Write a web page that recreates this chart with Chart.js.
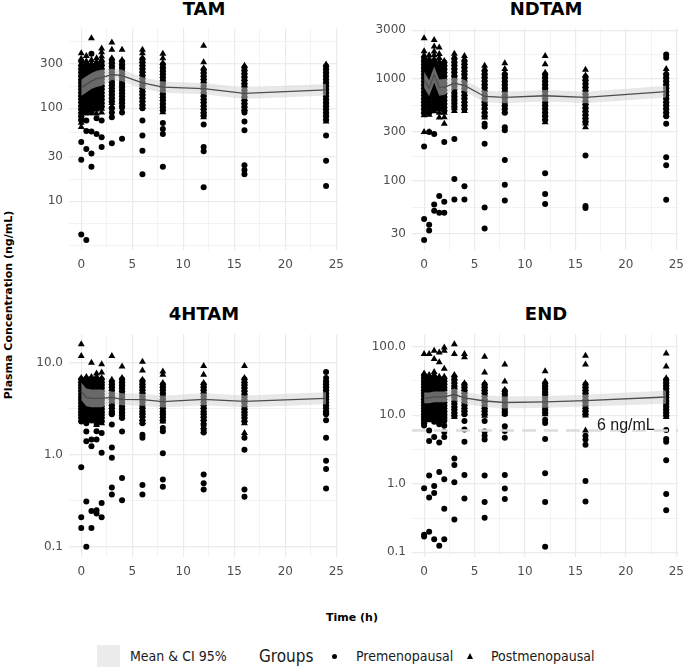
<!DOCTYPE html>
<html>
<head>
<meta charset="utf-8">
<script src="https://cdn.jsdelivr.net/npm/chart.js@4.4.1/dist/chart.umd.min.js"></script>
<style>
  html, body { margin: 0; padding: 0; background: #fff; overflow: hidden; }
  body { width: 685px; height: 669px; position: relative; font-family: "DejaVu Sans", sans-serif; }
  canvas { position: absolute; }
  .title { position: absolute; font: bold 18px "DejaVu Sans"; line-height: 1; color: #000; transform: translate(-50%, -50%); white-space: nowrap; }
  .axis-title { position: absolute; font: bold 11px "DejaVu Sans"; line-height: 1; color: #000; white-space: nowrap; }
  .leg { position: absolute; font-family: "DejaVu Sans Condensed", "DejaVu Sans"; color: #1a1a1a; line-height: 1; transform: translateY(-50%); white-space: nowrap; }
</style>
</head>
<body>
<div class="title" style="left:204px; top:9px">TAM</div>
<div class="title" style="left:546px; top:9px">NDTAM</div>
<div class="title" style="left:204px; top:314px">4HTAM</div>
<div class="title" style="left:546px; top:314px">END</div>
<div class="axis-title" style="left:8px; top:305px; transform: translate(-50%, -50%) rotate(-90deg)">Plasma Concentration (ng/mL)</div>
<div class="axis-title" style="left:352px; top:617px; transform: translate(-50%, -50%)">Time (h)</div>

<div style="position:absolute; left:97px; top:645px; width:23px; height:22px; background:#ebebeb"></div>
<div class="leg" style="left:130px; top:656px; font-size:14px">Mean &amp; CI 95%</div>
<div class="leg" style="left:259px; top:656px; font-size:17px">Groups</div>
<div style="position:absolute; left:331.5px; top:654px; width:5px; height:5px; border-radius:50%; background:#000"></div>
<div class="leg" style="left:356px; top:656px; font-size:14px">Premenopausal</div>
<div style="position:absolute; left:467px; top:653px; width:0; height:0; border-left:3px solid transparent; border-right:3px solid transparent; border-bottom:6px solid #000"></div>
<div class="leg" style="left:491px; top:656px; font-size:14px">Postmenopausal</div>

<script>
// sampling times (h)
const times = [0, 0.5, 1, 1.5, 2, 3, 4, 6, 8, 12, 16, 24];
const xTicks = [0, 5, 10, 15, 20, 25];

// TAM
const tamTicks = [10, 30, 100, 300];
const tamTickLabels = ["10", "30", "100", "300"];
const tamPre = [
  [320, 285, 260, 240, 220, 200, 186, 172, 158, 146, 135, 125, 115, 105, 97, 88, 81, 74, 43.4, 28, 4.4],
  [300, 275, 255, 235, 215, 198, 182, 168, 155, 142, 130, 120, 110, 100, 92, 74, 57, 36.5, 3.85],
  [386, 290, 262, 242, 222, 205, 189, 175, 161, 149, 137, 126, 116, 106, 98, 90, 56.5, 32.6, 23.5],
  [300, 275, 254, 234, 216, 199, 184, 169, 156, 143, 131, 121, 111, 101, 78, 53],
  [315, 288, 263, 242, 222, 204, 188, 173, 159, 146, 134, 123, 113, 104, 74, 49, 38.4],
  [330, 305, 282, 261, 242, 224, 207, 191, 177, 163, 151, 139, 128, 118, 100, 90, 80, 42],
  [318, 294, 272, 252, 233, 215, 199, 184, 170, 157, 145, 134, 124, 114, 102, 90, 47],
  [336, 310, 286, 264, 244, 225, 208, 192, 177, 163, 150, 139, 128, 118, 108, 100, 74, 51, 35, 19.5],
  [295, 272, 251, 231, 213, 197, 182, 168, 155, 142, 131, 121, 111, 102, 95, 69.6, 60, 53, 23.5],
  [259, 239, 220, 203, 187, 172, 159, 146, 135, 124, 115, 105, 97, 89, 83, 67, 38.4, 34.5, 14.2],
  [275, 254, 234, 216, 199, 183, 169, 155, 143, 132, 121, 112, 103, 95, 90, 72, 58, 24.5, 21.7, 19.5],
  [284, 261, 241, 222, 204, 188, 173, 159, 147, 135, 124, 114, 105, 97, 89, 82, 75, 51, 27.3, 14.6]
];
const tamPost = [
  [390, 340, 300, 275, 250, 230, 212, 196, 180, 166, 153, 141, 130, 120, 110, 101, 93, 85, 78, 70, 63],
  [366, 320, 290, 265, 245, 225, 207, 190, 175, 161, 148, 136, 125, 115, 105, 96, 88],
  [566, 330, 300, 275, 252, 232, 214, 197, 182, 168, 155, 143, 132, 121, 111, 102, 95],
  [345, 315, 288, 265, 244, 225, 207, 191, 176, 162, 149, 137, 126, 116, 106, 97, 88],
  [440, 400, 360, 330, 300, 275, 252, 232, 213, 196, 180, 166, 152, 140, 129, 118, 108, 99, 90],
  [509, 426, 345, 318, 294, 272, 252, 233, 215, 199, 184, 170, 157, 145, 134, 124, 114, 105],
  [426, 330, 305, 283, 262, 242, 224, 207, 191, 177, 163, 151, 139, 128, 118, 110],
  [426, 390, 350, 322, 297, 274, 253, 234, 216, 199, 184, 170, 157, 145, 134, 123, 113, 104],
  [386, 345, 307, 283, 261, 241, 222, 205, 189, 174, 160, 148, 136, 126, 116, 107, 99, 91],
  [470, 313, 270, 249, 230, 212, 195, 180, 166, 153, 141, 130, 120, 110, 101, 93, 86, 80],
  [287, 265, 244, 225, 207, 191, 176, 162, 149, 137, 126, 116, 107, 99],
  [295, 272, 250, 231, 213, 196, 181, 166, 153, 141, 130, 119, 110, 101, 93, 85, 78, 72]
];
const tamMean = [166, 181, 196, 208, 213, 231, 225, 188, 169, 163, 145, 158];
const tamLo = [136, 148, 161, 170, 175, 201, 196, 163, 147, 142, 126, 137];
const tamHi = [203, 221, 239, 254, 260, 266, 259, 216, 194, 187, 167, 182];

// NDTAM
const ndtamTicks = [30, 100, 300, 1000, 3000];
const ndtamTickLabels = ["30", "100", "300", "1000", "3000"];
const ndtamPre = [
  [1600, 1480, 1370, 1270, 1180, 1090, 1010, 935, 865, 800, 740, 685, 635, 585, 540, 500, 460, 216, 42, 26.2],
  [1500, 1390, 1290, 1190, 1100, 1020, 940, 870, 805, 745, 690, 640, 590, 545, 505, 465, 300, 36.9, 32.4],
  [1500, 1390, 1290, 1190, 1100, 1020, 940, 870, 805, 745, 690, 640, 590, 545, 505, 288, 58.4, 50.6],
  [1400, 1300, 1200, 1110, 1030, 950, 880, 815, 755, 700, 645, 600, 555, 515, 70.6, 48.5],
  [1450, 1340, 1240, 1150, 1060, 980, 905, 840, 775, 715, 660, 610, 565, 520, 480, 240, 62, 48.5],
  [1570, 1450, 1340, 1240, 1150, 1060, 980, 905, 840, 775, 715, 660, 610, 565, 520, 257, 104, 65.4],
  [1500, 1390, 1290, 1190, 1100, 1020, 940, 870, 805, 745, 690, 640, 590, 545, 505, 88, 65.4],
  [1200, 1110, 1030, 950, 880, 815, 755, 700, 645, 600, 555, 515, 465, 430, 363, 340, 230, 54.6, 34],
  [1100, 1020, 940, 870, 805, 745, 690, 640, 590, 545, 505, 465, 335, 312, 160, 91, 64],
  [1100, 1020, 940, 870, 805, 745, 690, 640, 590, 545, 505, 465, 430, 395, 118, 74, 59],
  [1040, 960, 890, 820, 760, 700, 650, 600, 555, 515, 475, 440, 405, 375, 177, 56.5, 54],
  [1736, 1611, 1100, 1020, 940, 870, 805, 745, 690, 640, 590, 545, 505, 465, 430, 363, 170, 142, 65]
];
const ndtamPost = [
  [2500, 1860, 1700, 1560, 1440, 1330, 1230, 1140, 1050, 970, 900, 830, 770, 710, 660, 610, 565, 520, 480, 440, 300],
  [1700, 1570, 1450, 1340, 1240, 1150, 1060, 980, 905, 840, 775, 715, 660, 610, 565, 520, 480, 445, 300],
  [2410, 2080, 1850, 1700, 1560, 1440, 1330, 1230, 1140, 1050, 970, 900, 830, 770, 710, 660, 610, 565, 520, 480],
  [2030, 1750, 1600, 1480, 1370, 1270, 1180, 1090, 1010, 935, 865, 800, 740, 685, 635, 585, 540, 500, 465, 416],
  [1500, 1390, 1290, 1190, 1100, 1020, 940, 870, 805, 745, 690, 640, 590, 545, 505, 465, 420, 363],
  [1760, 1630, 1510, 1400, 1300, 1200, 1110, 1030, 950, 880, 815, 755, 700, 645, 600, 555, 515, 482],
  [1672, 1550, 1430, 1330, 1230, 1140, 1050, 970, 900, 830, 770, 710, 660, 610, 565, 520, 482],
  [1343, 1240, 1150, 1060, 980, 905, 840, 775, 715, 660, 610, 565, 520, 480, 445, 416],
  [1418, 1248, 1150, 1060, 980, 905, 840, 775, 715, 660, 610, 565, 520, 480],
  [1672, 1389, 1150, 1060, 980, 905, 840, 775, 715, 660, 610, 565, 520, 480, 445, 410, 374],
  [1230, 1080, 1000, 925, 855, 790, 730, 675, 625, 580, 535, 495, 460, 425, 395, 365, 335],
  [1248, 1150, 1060, 980, 905, 840, 775, 715, 660, 610, 565, 520, 480, 445]
];
const ndtamMean = [980, 808, 1100, 820, 830, 900, 860, 671, 656, 682, 656, 748];
const ndtamLo = [817, 673, 917, 683, 692, 789, 754, 589, 575, 598, 575, 656];
const ndtamHi = [1176, 970, 1320, 984, 996, 1026, 980, 765, 748, 777, 748, 853];

// 4HTAM
const h4tamTicks = [0.1, 1, 10];
const h4tamTickLabels = ["0.1", "1.0", "10.0"];
const h4tamPre = [
  [6.6, 6.1, 5.7, 5.3, 4.9, 4.5, 4.2, 3.9, 3.6, 3.35, 3.1, 2.9, 2.7, 2.5, 2.3, 0.73, 0.21, 0.16],
  [6.7, 6.2, 5.8, 5.4, 5.0, 4.6, 4.3, 4.0, 3.7, 3.45, 3.2, 2.95, 2.75, 2.55, 2.35, 2.2, 1.79, 1.4, 0.31, 0.1],
  [6.7, 6.2, 5.8, 5.4, 5.0, 4.6, 4.3, 4.0, 3.7, 3.45, 3.2, 2.95, 2.75, 2.55, 2.35, 1.46, 1.24, 0.245, 0.16],
  [6.7, 6.2, 5.8, 5.4, 5.0, 4.6, 4.3, 4.0, 3.7, 3.45, 3.2, 2.95, 2.75, 2.55, 2.35, 2.2, 1.8, 1.46, 0.25, 0.23],
  [6.6, 6.1, 5.7, 5.3, 4.9, 4.5, 4.2, 3.9, 3.6, 3.35, 3.1, 2.9, 2.7, 2.5, 2.3, 1.72, 1.05, 0.3, 0.21],
  [6.2, 5.8, 5.4, 5.0, 4.6, 4.3, 4.0, 3.7, 3.45, 3.2, 2.95, 2.75, 2.13, 1.2, 0.93, 0.44, 0.37],
  [6.6, 6.1, 5.7, 5.3, 4.9, 4.5, 4.2, 3.9, 3.6, 3.35, 3.1, 2.9, 2.7, 2.5, 1.79, 0.56, 0.32],
  [6.3, 5.9, 5.5, 5.1, 4.7, 4.4, 4.1, 3.8, 3.5, 3.25, 3.0, 2.8, 2.6, 2.35, 2.2, 1.65, 1.53, 0.47, 0.37],
  [5.8, 5.4, 5.0, 4.6, 4.3, 4.0, 3.7, 3.45, 3.2, 2.95, 2.75, 2.55, 2.35, 1.95, 1.8, 1.04, 0.54, 0.45],
  [5.8, 5.4, 5.0, 4.6, 4.3, 4.0, 3.7, 3.45, 3.2, 2.95, 2.75, 2.55, 2.35, 2.1, 1.86, 1.74, 0.61, 0.49, 0.42],
  [6.6, 6.1, 5.7, 5.3, 4.9, 4.5, 4.2, 3.9, 3.6, 3.35, 3.1, 2.9, 2.7, 2.5, 2.3, 1.53, 1.13, 0.42, 0.35],
  [7.9, 6.8, 6.2, 5.8, 5.4, 5.0, 4.6, 4.3, 4.0, 3.7, 3.45, 3.2, 2.95, 2.75, 2.37, 1.53, 0.86, 0.70, 0.43]
];
const h4tamPost = [
  [15.8, 11.8, 6.8, 6.3, 5.9, 5.5, 5.1, 4.7, 4.4, 4.1, 3.8, 3.5, 3.25, 3.0, 2.8, 2.6, 2.4],
  [7.0, 6.5, 6.0, 5.6, 5.2, 4.8, 4.45, 4.15, 3.85, 3.55, 3.3, 3.05, 2.85, 2.65, 2.45],
  [10, 7.0, 6.5, 6.0, 5.6, 5.2, 4.8, 4.45, 4.15, 3.85, 3.55, 3.3, 3.05, 2.85, 2.65, 2.45],
  [7.6, 7.0, 6.5, 6.0, 5.6, 5.2, 4.8, 4.45, 4.15, 3.85, 3.55, 3.3, 3.05, 2.85, 2.65, 2.1],
  [9.6, 7.8, 6.8, 6.3, 5.9, 5.5, 5.1, 4.7, 4.4, 4.1, 3.8, 3.5, 3.25, 3.0, 2.8, 2.6, 2.4, 2.2],
  [11.8, 6.5, 6.0, 5.6, 5.2, 4.8, 4.45, 4.15, 3.85, 3.55, 3.3, 3.05, 2.9],
  [9.1, 6.8, 6.3, 5.9, 5.5, 5.1, 4.7, 4.4, 4.1, 3.8, 3.5, 3.25, 3.0, 2.8, 2.6],
  [10.2, 8.2, 6.5, 6.0, 5.6, 5.2, 4.8, 4.45, 4.15, 3.85, 3.55, 3.3, 3.05, 2.85, 2.65, 2.45, 2.25],
  [8.0, 7.4, 6.0, 5.6, 5.2, 4.8, 4.45, 4.15, 3.85, 3.55, 3.3, 3.05, 2.85, 2.65, 2.45, 2.3],
  [9.2, 7.4, 6.0, 5.6, 5.2, 4.8, 4.45, 4.15, 3.85, 3.55, 3.3, 3.05, 2.85, 2.65, 2.45, 2.25, 2.0, 1.8],
  [9.2, 6.8, 6.3, 5.9, 5.5, 5.1, 4.7, 4.4, 4.1, 3.8, 3.5, 3.25, 3.0, 2.8, 2.6, 2.4, 2.2, 1.72],
  [6.5, 6.0, 5.6, 5.2, 4.8, 4.45, 4.15, 3.85, 3.55, 3.3, 3.05, 2.9]
];
const h4tamMean = [4.9, 4.2, 4.1, 4.1, 4.1, 4.2, 4.0, 3.96, 3.77, 4.0, 3.8, 4.1];
const h4tamLo = [3.92, 3.36, 3.28, 3.28, 3.28, 3.62, 3.45, 3.41, 3.25, 3.45, 3.28, 3.53];
const h4tamHi = [6.1, 5.25, 5.1, 5.1, 5.1, 4.87, 4.64, 4.59, 4.37, 4.64, 4.41, 4.76];

// END
const endTicks = [0.1, 1, 10, 100];
const endTickLabels = ["0.1", "1.0", "10.0", "100.0"];
const endCutoff = 6;
const endCutoffLabel = "6 ng/mL";
const endPre = [
  [38, 34.5, 31, 28, 25.5, 23, 21, 19, 17, 15.5, 14, 12.6, 11.4, 10.3, 9.3, 8.4, 7.6, 7.1, 0.86, 0.18, 0.17],
  [36, 32.5, 29.5, 26.5, 24, 21.8, 19.7, 17.8, 16.1, 14.5, 13.1, 11.9, 10.7, 9.7, 8.8, 6.0, 4.2, 1.32, 0.63, 0.2],
  [36, 32.5, 29.5, 26.5, 24, 21.8, 19.7, 17.8, 16.1, 14.5, 13.1, 11.9, 10.7, 9.7, 8.8, 8.0, 4.8, 0.93, 0.73, 0.155],
  [34, 31, 28, 25, 22.8, 20.6, 18.6, 16.8, 15.2, 13.7, 12.4, 11.2, 10.1, 9.1, 8.2, 7.4, 4.0, 1.48, 0.125],
  [34, 31, 28, 25, 22.8, 20.6, 18.6, 16.8, 15.2, 13.7, 12.4, 11.2, 10.1, 9.1, 8.2, 7.0, 5.7, 4.8, 1.16, 0.43, 0.155],
  [36, 32.5, 29.5, 26.5, 24, 21.8, 19.7, 17.8, 16.1, 14.5, 13.1, 11.9, 10.7, 9.7, 2.33, 1.87, 1.05, 0.30],
  [28, 25.5, 23, 21, 19, 17, 15.5, 14, 12.6, 11.4, 10.3, 8.2, 6.2, 4.1, 1.34, 0.61],
  [28, 25.5, 23, 21, 19, 17, 15.5, 14, 12.6, 11.4, 10.3, 8.2, 5.8, 5.0, 4.4, 1.32, 0.54, 0.32],
  [22.5, 20.4, 18.5, 16.7, 15.1, 13.7, 12.4, 11.2, 10.4, 6.9, 5.9, 4.7, 1.34, 0.85, 0.6],
  [29, 26.5, 24, 21.8, 19.7, 17.8, 16.1, 14.5, 13.1, 11.9, 10.7, 8.6, 7.7, 4.5, 1.42, 0.54, 0.12],
  [28, 25.5, 23, 21, 19, 17, 15.5, 14, 12.6, 11.4, 10.3, 5.0, 4.4, 3.7, 1.1, 0.55],
  [33, 30, 27, 24.5, 22, 20, 18, 16.3, 14.7, 13.3, 12, 10.9, 9.9, 6.1, 4.5, 4.1, 2.2, 0.71, 0.41]
];
const endPost = [
  [78, 40.6, 36.5, 33, 30, 27, 24.5, 22, 20, 18, 16.3, 14.7, 13.3, 12, 10.9, 9.9, 9.0, 8.1],
  [78, 38.4, 34.5, 31, 28, 25.5, 23, 21, 19, 17, 15.5, 14, 12.6, 11.4, 10.3, 9.3, 8.4],
  [86.8, 66, 42.8, 38.4, 34.5, 31, 28, 25.5, 23, 21, 19, 17, 15.5, 14, 12.6, 11.4, 10.3, 9.3],
  [82.2, 59, 36.5, 33, 30, 27, 24.5, 22, 20, 18, 16.3, 14.7, 13.3, 12, 10.9, 9.9],
  [96.8, 86.8, 47.7, 36.5, 33, 30, 27, 24.5, 22, 20, 18, 16.3, 14.7, 13.3, 12, 10.9, 9.9, 9.0],
  [108, 78, 38.4, 34.5, 31, 28, 25.5, 23, 21, 19, 17, 15.5, 14, 12.6, 11.4, 10.3, 9.4],
  [78, 69.9, 29.3, 26.5, 24, 21.8, 19.7, 17.8, 16.1, 14.5, 13.1, 11.9, 10.7],
  [71.3, 41.9, 29.3, 26.5, 24, 21.8, 19.7, 17.8, 16.1, 14.5, 13.1, 11.9, 10.7, 9.8],
  [55, 30.9, 23.5, 21.5, 19.5, 17.6, 15.9, 14.4, 13, 11.8, 10.6],
  [43.7, 30.9, 28, 25.5, 23, 21, 19, 17, 15.5, 14, 12.6, 11.4, 10.3],
  [73.8, 55, 29.3, 26.5, 24, 21.8, 19.7, 17.8, 16.1, 14.5, 13.1, 11.9, 10.7, 9.9, 6.0],
  [79.5, 51.5, 34.5, 31, 28, 25.5, 23, 21, 19, 17, 15.5, 14, 12.6, 11.4, 10.3, 9.4]
];
const endMean = [17.9, 17.9, 18.5, 18.5, 18.5, 20, 17.9, 16.1, 15.3, 15.6, 16.3, 18.4];
const endLo = [14.9, 14.9, 15.4, 15.4, 15.4, 16.4, 14.7, 13.2, 12.5, 12.8, 13.4, 14.7];
const endHi = [21.5, 21.5, 22.2, 22.2, 22.2, 24.4, 21.8, 19.6, 18.7, 19.0, 19.9, 23.0];

// layout of the four panels (plot areas, px)
const Y_W = 60, X_H = 26, PAD_T = 10, PAD_R = 12;
const X_MIN = -1.2, X_MAX = 25.2;
const GRID = "#ebebeb";
const TICK_FONT = { family: "DejaVu Sans", size: 12 };

function toPoints(groups) {
  const pts = [];
  groups.forEach((vals, i) => vals.forEach(v => pts.push({ x: times[i], y: v })));
  return pts;
}

// ggplot-like minor breaks: midpoints between majors (log space), extended one step each side
function minorLog(majors) {
  const b = majors.map(Math.log10);
  const ext = [b[0] - (b[1] - b[0])].concat(b, [b[b.length - 1] + (b[b.length - 1] - b[b.length - 2])]);
  const out = [10 ** ext[0], 10 ** ext[ext.length - 1]];
  for (let i = 0; i < ext.length - 1; i++) out.push(10 ** ((ext[i] + ext[i + 1]) / 2));
  return out;
}

function sameVal(a, b) { return Math.abs(Math.log10(a) - Math.log10(b)) < 1e-6; }

const cutoffLabel = {
  id: "cutoffLabel",
  afterDatasetsDraw(chart, args, opts) {
    if (!opts.text) return;
    const { ctx, scales } = chart;
    ctx.save();
    ctx.font = '16px "Liberation Sans", Arial, sans-serif';
    ctx.fillStyle = "#1a1a1a";
    ctx.textAlign = "center";
    ctx.textBaseline = "middle";
    ctx.fillText(opts.text, scales.x.getPixelForValue(opts.x), scales.y.getPixelForValue(opts.y) - 5);
    ctx.restore();
  }
};

function addPanel(rect, pre, post, mean, lo, hi, majors, majorLabels, cutoff) {
  const canvas = document.createElement("canvas");
  const w = Y_W + (rect.r - rect.l) + PAD_R;
  const h = PAD_T + (rect.b - rect.t) + X_H;
  canvas.width = w;
  canvas.height = h;
  canvas.style.left = (rect.l - Y_W) + "px";
  canvas.style.top = (rect.t - PAD_T) + "px";
  document.body.appendChild(canvas);

  const all = pre.flat().concat(post.flat());
  const lmin = Math.log10(Math.min(...all));
  const lmax = Math.log10(Math.max(...all));
  const ex = (lmax - lmin) * 0.05;
  const yMin = 10 ** (lmin - ex), yMax = 10 ** (lmax + ex);
  const yVals = majors.concat(minorLog(majors)).filter(v => v >= yMin && v <= yMax).sort((a, b) => a - b);

  const xMinor = [];
  for (let i = 0; i < xTicks.length - 1; i++) xMinor.push((xTicks[i] + xTicks[i + 1]) / 2);
  const xVals = xTicks.concat(xMinor).sort((a, b) => a - b);

  const line = arr => times.map((t, i) => ({ x: t, y: arr[i] }));

  const datasets = [
    { type: "scatter", data: toPoints(pre), pointStyle: "circle", pointRadius: 3, backgroundColor: "#000", borderWidth: 0, order: 4 },
    { type: "scatter", data: toPoints(post), pointStyle: "triangle", pointRadius: 4, backgroundColor: "#000", borderWidth: 0, order: 4 },
    { type: "line", data: line(lo), borderWidth: 0, pointRadius: 0, fill: false, order: 2 },
    { type: "line", data: line(hi), borderWidth: 0, pointRadius: 0, fill: "-1", backgroundColor: "rgba(210,210,210,0.5)", order: 2 },
    { type: "line", data: line(mean), borderColor: "#4d4d4d", borderWidth: 1.3, pointRadius: 0, fill: false, order: 1 }
  ];
  if (cutoff) {
    datasets.push({ type: "line", data: [{ x: X_MIN, y: cutoff.value }, { x: X_MAX, y: cutoff.value }],
      borderColor: "#dcdcdc", borderWidth: 2.5, borderDash: [14, 8], pointRadius: 0, fill: false, order: 3 });
  }

  new Chart(canvas.getContext("2d"), {
    type: "scatter",
    data: { datasets },
    plugins: [cutoffLabel],
    options: {
      responsive: false,
      animation: false,
      events: [],
      layout: { padding: { top: PAD_T, right: PAD_R, left: 0, bottom: 0 }, autoPadding: false },
      plugins: {
        legend: { display: false },
        tooltip: { enabled: false },
        cutoffLabel: cutoff ? { text: cutoff.label, x: 20, y: cutoff.value } : {}
      },
      scales: {
        x: {
          type: "linear", min: X_MIN, max: X_MAX,
          afterBuildTicks: s => { s.ticks = xVals.map(v => ({ value: v })); },
          afterFit: s => { s.height = X_H; },
          ticks: {
            autoSkip: false, maxRotation: 0, padding: 8, color: "#4d4d4d", font: TICK_FONT,
            callback: v => (xTicks.includes(v) ? String(v) : "")
          },
          grid: {
            drawTicks: false, color: GRID,
            lineWidth: c => (c.tick && xTicks.includes(c.tick.value) ? 1.2 : 0.6)
          },
          border: { display: false }
        },
        y: {
          type: "logarithmic", min: yMin, max: yMax,
          afterBuildTicks: s => { s.ticks = yVals.map(v => ({ value: v })); },
          afterFit: s => { s.width = Y_W; },
          ticks: {
            autoSkip: false, padding: 6, color: "#4d4d4d", font: TICK_FONT,
            callback: v => {
              const k = majors.findIndex(m => sameVal(m, v));
              return k >= 0 ? majorLabels[k] : "";
            }
          },
          grid: {
            drawTicks: false, color: GRID,
            lineWidth: c => (c.tick && majors.some(m => sameVal(m, c.tick.value)) ? 1.2 : 0.6)
          },
          border: { display: false }
        }
      }
    }
  });
}

addPanel({ l: 69, t: 25, r: 340, b: 250 }, tamPre, tamPost, tamMean, tamLo, tamHi, tamTicks, tamTickLabels);
addPanel({ l: 412, t: 25, r: 680, b: 250 }, ndtamPre, ndtamPost, ndtamMean, ndtamLo, ndtamHi, ndtamTicks, ndtamTickLabels);
addPanel({ l: 69, t: 331, r: 340, b: 557 }, h4tamPre, h4tamPost, h4tamMean, h4tamLo, h4tamHi, h4tamTicks, h4tamTickLabels);
addPanel({ l: 412, t: 331, r: 680, b: 557 }, endPre, endPost, endMean, endLo, endHi, endTicks, endTickLabels,
  { value: endCutoff, label: endCutoffLabel });
</script>
</body>
</html>
